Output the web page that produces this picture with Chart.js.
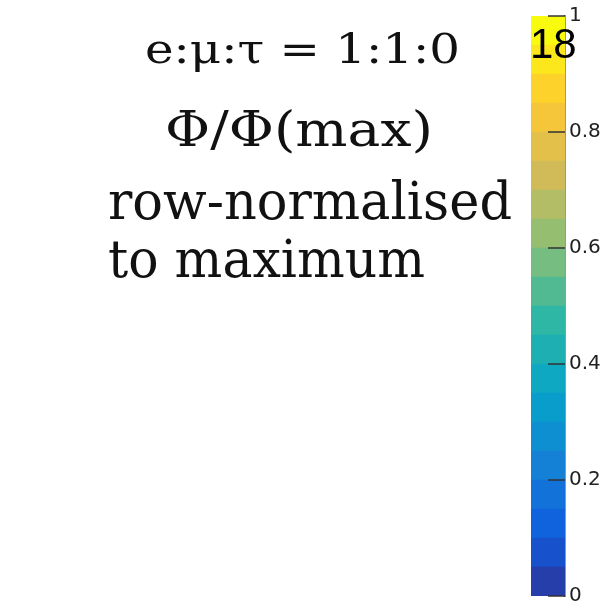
<!DOCTYPE html>
<html><head><meta charset="utf-8">
<script src="https://cdn.jsdelivr.net/npm/chart.js@4/dist/chart.umd.min.js"></script>
<style>html,body{margin:0;padding:0;background:#fff;}canvas{display:block;}</style>
</head><body>
<canvas id="c" width="603" height="612"></canvas>
<script>
// ---- data ----
const contourLevels = [0,0.05,0.1,0.15,0.2,0.25,0.3,0.35,0.4,0.45,0.5,0.55,0.6,0.65,0.7,0.75,0.8,0.85,0.9,0.95,1];
const tickValues = [0,0.2,0.4,0.6,0.8,1];
const tickLabels = ['0','0.2','0.4','0.6','0.8','1'];
const titleLines = ['e:μ:τ = 1:1:0','Φ/Φ(max)','row-normalised','to maximum'];
const slideNumber = '18';

// ---- style: ROOT kBird palette ----
const birdStops=[0,0.125,0.25,0.375,0.5,0.625,0.75,0.875,1];
const birdR=[0.2082,0.0592,0.0780,0.0232,0.1802,0.5301,0.8186,0.9956,0.9764];
const birdG=[0.1664,0.3599,0.5041,0.6419,0.7178,0.7492,0.7328,0.7862,0.9832];
const birdB=[0.5293,0.8684,0.8385,0.7914,0.6425,0.4662,0.3499,0.1968,0.0539];
function bird(t){
  t=Math.max(0,Math.min(1,t));
  let k=0; while(k<birdStops.length-2 && t>birdStops[k+1]) k++;
  const f=(t-birdStops[k])/(birdStops[k+1]-birdStops[k]);
  const c=a=>Math.round(255*(a[k]+(a[k+1]-a[k])*f));
  return `rgb(${c(birdR)},${c(birdG)},${c(birdB)})`;
}

const textLayout=[
  {x:145,y:63,w:315,size:41},
  {x:165,y:146,w:268,size:48},
  {x:108,y:219,w:404,size:52},
  {x:108,y:277,w:317,size:52}
];

const datasets=[];
for(let i=0;i<contourLevels.length-1;i++){
  datasets.push({
    data:[[contourLevels[i],contourLevels[i+1]]],
    backgroundColor:bird((i+1)/(contourLevels.length-1)),
    borderWidth:0,barPercentage:1,categoryPercentage:1,grouped:false
  });
}

const overlay={
  id:'overlay',
  afterDraw(chart){
    const ctx=chart.ctx, ys=chart.scales.y, a=chart.chartArea;
    ctx.save();
    ctx.strokeStyle='#333'; ctx.lineWidth=1.5;
    tickValues.forEach(v=>{
      const py=ys.getPixelForValue(v);
      ctx.beginPath(); ctx.moveTo(a.right-17,py); ctx.lineTo(a.right,py); ctx.stroke();
    });
    ctx.fillStyle='#111'; ctx.textBaseline='alphabetic'; ctx.textAlign='left';
    titleLines.forEach((s,i)=>{
      const L=textLayout[i];
      ctx.font=`${L.size}px "DejaVu Serif"`;
      const mw=ctx.measureText(s).width;
      ctx.save(); ctx.translate(L.x,L.y); ctx.scale(L.w/mw,1); ctx.fillText(s,0,0); ctx.restore();
    });
    ctx.fillStyle='#000';
    ctx.font='42px "Liberation Sans"';
    ctx.fillText(slideNumber,530,58);
    ctx.restore();
  }
};

new Chart(document.getElementById('c'),{
  type:'bar',
  data:{labels:['Φ'],datasets},
  options:{
    responsive:false,animation:false,devicePixelRatio:1,
    layout:{padding:{left:531,top:12,bottom:12,right:0}},
    plugins:{legend:{display:false},tooltip:{enabled:false}},
    scales:{
      x:{display:false},
      y:{
        position:'right',min:0,max:1,
        afterBuildTicks:s=>{s.ticks=tickValues.map(v=>({value:v}));},
        afterFit:s=>{s.width=38;},
        grid:{display:false,drawTicks:false},
        border:{display:true,color:'#333',width:1.5},
        ticks:{padding:4,color:'#222',font:{family:'DejaVu Sans',size:20},callback:(v,i)=>tickLabels[i]}
      }
    }
  },
  plugins:[overlay]
});
</script>
</body></html>
